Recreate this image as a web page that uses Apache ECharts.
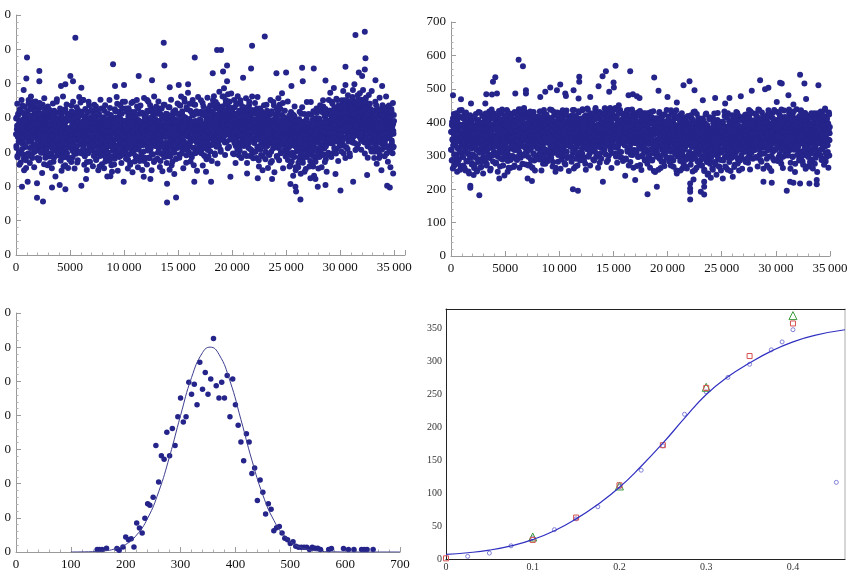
<!DOCTYPE html>
<html>
<head>
<meta charset="utf-8">
<script src="https://cdn.jsdelivr.net/npm/echarts@6/dist/echarts.min.js"></script>
<style>
  html, body { margin: 0; padding: 0; background: #fff; }
  #main { width: 858px; height: 581px; }
</style>
</head>
<body>
<div id="main"></div>
<script>
// top-left trace: y values, one row per 1000 samples on the x axis
var tlBand = [
  352,318,401,377,289,344,412,365,298,386,331,425,357,270,393,340,378,309,436,362,327,395,281,349,407,372,315,388,254,361,
  384,341,419,296,367,452,330,398,375,312,427,358,389,336,404,283,371,446,322,392,355,413,301,379,347,432,366,318,401,388,
  337,395,309,428,362,281,376,344,410,327,390,353,299,372,438,316,384,351,265,403,332,369,421,290,358,396,324,381,346,412,
  318,372,401,287,345,366,329,413,296,358,380,311,347,394,272,336,421,353,305,369,388,325,342,447,291,364,317,399,338,376,
  362,306,388,331,275,349,412,320,367,296,341,384,258,357,398,314,339,425,301,352,372,287,346,409,326,361,283,393,337,318,
  341,398,312,372,436,329,358,285,404,347,319,383,362,296,415,337,374,308,351,392,270,366,423,334,389,302,357,378,324,445,
  375,333,418,296,361,389,342,452,315,378,351,288,404,366,327,395,340,271,383,416,349,305,372,437,331,358,394,312,367,343,
  328,379,304,361,415,342,289,372,336,398,316,357,433,279,348,385,321,364,297,406,339,374,258,353,391,312,368,427,334,301,
  314,362,389,298,345,421,327,356,273,384,339,306,371,412,292,348,367,325,395,283,353,429,318,342,376,262,357,391,330,304,
  373,326,398,354,281,367,419,338,305,386,352,441,317,362,293,379,346,404,328,366,289,395,343,318,371,427,356,301,384,337,
  341,386,312,359,427,296,368,334,392,321,357,278,405,346,372,315,389,263,351,418,328,364,303,382,337,447,319,356,392,309,
  362,318,401,345,287,372,433,329,356,394,308,367,341,412,284,359,386,327,372,298,415,343,366,321,389,352,274,404,336,369,
  347,401,329,378,452,316,363,392,284,356,419,337,374,308,395,351,428,293,366,382,325,409,348,271,387,343,362,416,319,377,
  385,336,361,412,298,374,348,427,315,359,391,274,343,382,326,405,361,294,378,352,438,321,367,309,396,344,372,287,359,411,
  327,372,304,349,396,318,431,356,287,368,341,379,262,352,405,329,363,311,387,345,298,374,422,336,358,281,393,325,364,347,
  382,341,409,367,293,378,436,352,324,397,361,415,307,375,348,388,332,456,369,318,401,357,384,291,372,425,346,392,363,327,
  344,397,362,318,421,374,336,389,285,358,407,341,376,312,439,353,368,297,391,347,372,419,328,361,302,385,354,412,337,376,
  371,328,394,352,418,306,367,339,443,318,381,356,291,372,345,406,324,363,387,279,352,398,336,374,312,427,359,341,389,302,
  388,342,415,376,321,398,362,451,335,384,407,353,296,374,428,361,392,318,376,439,347,403,365,331,389,416,352,378,307,394,
  402,361,433,378,417,345,396,462,372,409,328,387,441,366,398,354,423,381,311,404,375,448,359,392,417,337,388,429,368,401,
  384,337,412,365,398,294,376,431,352,389,318,403,367,442,343,379,356,413,328,391,372,305,386,451,359,371,322,397,368,415,
  349,392,371,318,426,358,383,337,404,361,289,378,415,346,393,367,326,437,354,381,309,368,398,341,412,375,297,386,359,422,
  377,331,395,356,414,302,368,389,343,427,315,372,351,398,276,364,407,338,382,357,421,326,369,393,341,288,376,412,349,365,
  338,382,357,301,399,346,372,421,319,361,387,294,353,408,332,376,348,269,393,362,419,327,355,384,311,371,437,342,366,319,
  372,327,401,358,289,384,346,417,363,312,392,355,438,331,369,297,382,351,408,326,374,443,339,362,304,396,357,321,389,346,
  329,368,302,351,391,277,343,372,314,398,336,359,262,384,321,347,412,298,366,333,379,287,352,405,318,341,371,256,336,389,
  358,312,381,334,269,352,396,318,343,287,371,326,412,301,348,367,279,335,389,314,356,243,342,376,308,363,331,397,286,349,
  321,364,296,347,383,312,338,274,369,327,408,293,352,331,376,258,344,317,392,305,361,336,282,373,346,414,309,338,367,297,
  372,328,396,351,306,384,347,421,319,368,292,387,356,433,338,375,311,362,402,344,279,391,357,326,413,368,342,298,379,353,
  392,348,421,371,326,406,364,447,338,387,412,355,298,379,431,362,394,337,418,371,309,386,452,351,398,366,423,341,377,404,
  366,413,352,397,438,328,384,419,361,402,296,377,451,343,392,368,426,314,389,407,352,437,375,331,398,364,418,288,381,409,
  412,358,433,387,461,342,396,419,371,448,327,402,383,436,359,414,391,312,424,378,456,348,397,429,366,403,381,442,336,418,
  368,421,383,346,437,397,359,412,328,389,452,371,404,345,428,382,317,399,361,441,376,408,334,393,426,353,387,302,415,372,
  378,332,396,357,418,301,369,343,392,324,437,355,381,312,364,405,339,372,283,387,351,414,328,366,394,307,359,428,341,376,
  349,392,361,418,327,374,403,338,386,296,371,432,356,317,389,363,412,341,378,301,395,358,426,334,367,389,313,382,354,408
];

// the samples lying between the ones above
var tlBand2 = [
  398,312,367,441,285,352,409,331,376,263,423,346,389,301,358,452,326,371,294,415,339,383,247,361,432,318,392,276,354,407,
  352,415,289,386,441,331,372,407,268,394,349,462,313,378,425,296,361,437,342,389,256,401,367,323,448,379,305,414,358,283,
  421,337,384,276,359,443,318,395,351,298,412,367,239,381,336,429,302,365,457,327,392,284,348,418,371,309,387,262,433,344,
  296,381,337,423,268,362,319,401,347,253,389,325,442,307,366,284,411,343,378,229,357,398,316,454,334,371,291,415,348,306,
  381,318,427,289,364,336,246,401,354,307,462,329,372,285,343,418,262,387,311,356,439,297,368,325,254,394,341,412,278,359,
  317,392,348,271,419,336,381,303,447,359,324,398,252,371,338,413,295,362,431,317,388,276,354,403,339,461,298,376,329,412,
  413,347,298,386,337,452,311,369,404,263,378,341,426,302,359,391,248,417,336,372,297,447,355,318,386,272,401,339,368,423,
  306,384,341,259,407,326,369,438,293,352,317,396,277,361,423,338,301,378,247,344,412,325,367,289,453,334,381,310,265,392,
  367,291,402,339,253,378,314,437,349,284,396,327,361,229,413,343,298,387,318,452,274,359,331,408,287,366,243,392,321,376,
  311,389,264,367,425,338,297,401,352,461,319,374,246,392,341,418,286,359,331,437,303,378,268,412,349,322,447,294,366,383,
  391,326,447,302,364,281,418,345,311,383,252,369,428,337,294,402,351,269,387,318,443,329,376,241,358,404,297,342,417,273,
  328,403,287,369,341,452,309,382,256,427,346,316,391,274,358,436,321,387,297,364,248,413,339,376,302,458,347,284,395,332,
  409,336,378,264,421,353,305,447,326,389,282,368,437,311,356,401,247,382,343,419,294,371,328,462,347,276,397,318,384,433,
  342,417,281,373,329,448,306,391,354,257,412,337,368,296,427,381,244,362,319,405,351,286,438,327,373,299,412,345,268,387,
  384,296,356,431,318,372,249,407,335,292,453,361,316,389,273,347,418,302,371,236,396,328,359,414,281,343,387,312,442,327,
  336,411,372,284,437,353,398,317,462,374,296,419,341,386,253,403,359,327,447,378,308,392,269,431,352,384,318,473,362,301,
  392,318,441,357,273,384,332,416,294,371,452,337,389,262,409,346,313,438,372,298,417,354,246,383,329,461,348,307,394,366,
  318,387,342,451,297,372,326,409,261,356,433,312,379,346,288,418,367,243,394,331,372,459,306,361,287,411,343,378,322,436,
  411,346,392,274,437,361,419,326,384,463,337,398,292,371,446,352,316,409,382,267,428,359,391,318,476,344,401,368,301,423,
  356,428,392,462,337,411,373,486,348,419,292,396,451,364,408,331,437,381,469,352,402,316,446,379,427,341,394,471,363,412,
  418,352,296,397,361,452,327,384,412,268,371,439,341,392,306,463,358,379,291,421,347,386,318,441,372,283,406,351,432,337,
  323,386,431,349,296,412,368,327,457,381,342,268,403,359,426,312,374,447,338,289,397,361,423,306,376,462,341,392,282,418,
  396,327,368,443,301,359,412,283,384,337,461,316,372,406,258,391,349,427,308,363,292,418,341,382,247,401,356,317,437,372,
  348,407,279,372,331,438,318,362,393,254,381,347,416,292,369,326,452,337,301,388,274,412,359,328,446,315,376,241,397,361,
  314,389,352,427,286,371,408,332,457,349,276,393,361,318,426,298,382,344,472,326,367,253,403,337,384,306,421,358,287,398,
  371,302,389,327,448,296,362,318,406,258,381,337,292,417,351,273,396,324,367,231,408,346,286,433,319,362,247,391,338,302,
  306,372,327,256,394,341,283,418,312,359,237,386,325,297,431,348,269,377,316,352,411,288,334,368,251,393,322,446,301,361,
  368,296,411,327,258,381,339,302,446,316,357,267,392,325,289,419,348,231,376,311,398,272,356,332,427,287,364,309,383,252,
  327,398,286,369,437,341,308,386,256,417,362,323,451,294,377,339,408,271,361,426,317,384,243,372,334,411,292,368,452,338,
  421,358,473,337,392,286,418,371,441,326,398,357,487,312,382,426,341,403,296,456,368,331,412,387,274,436,352,409,318,391,
  349,428,386,302,451,367,411,337,478,392,319,436,361,404,283,417,376,451,342,398,309,466,383,427,346,392,296,442,371,418,
  427,362,451,394,328,481,376,413,347,498,391,426,306,372,443,359,412,387,466,323,401,438,357,389,472,342,418,381,307,453,
  352,416,378,481,331,402,446,364,296,421,387,459,343,398,366,432,284,411,378,467,327,392,441,358,311,423,386,478,342,401,
  389,327,421,352,283,398,336,447,312,374,403,266,381,342,426,301,367,416,337,459,292,373,351,408,247,386,324,437,359,312,
  331,407,352,288,426,371,339,462,315,392,356,417,272,381,343,436,308,368,401,256,387,352,419,327,374,297,443,362,316,391
];

// top-left points well outside the band: [x, y]
var tlOutliers = [
  [1018,576],[957,515],[710,481],[2160,537],[2160,507],[5030,522],[5277,507],[5493,634],[6048,488],[4166,493],
  [4567,498],[8980,556],[9165,493],[10000,496],[11357,522],[12590,510],[13671,619],[13733,553],[14227,489],[15060,496],
  [15924,498],[16541,576],[18207,530],[18609,598],[18980,598],[19164,535],[19534,553],[19534,507],[21016,517],[21849,610],
  [21756,544],[23021,637],[24101,530],[24996,532],[25490,493],[26478,546],[26540,507],[27558,544],[28640,509],[30490,549],
  [30490,496],[31416,642],[32280,651],[32341,574],[32280,541],[31725,532],[32033,522],[33267,510],[33884,493],
  [1944,167],[2500,156],[1944,209],[555,199],[1080,214],[3333,197],[4043,204],[4567,192],[6048,202],[6480,222],
  [8733,230],[9968,214],[11820,228],[12437,222],[13980,153],[13980,208],[14813,168],[16500,214],[18053,214],[19843,228],
  [21386,238],[22374,224],[23700,222],[25397,207],[25860,199],[25921,185],[26323,162],[27249,224],[27712,222],[27928,199],
  [28640,204],[29566,236],[30028,188],[31200,214],[32496,233],[34347,202],[34594,197],[34903,238]
];

// top-right trace
var trBand = [
  318,372,286,401,349,262,387,331,425,304,358,279,394,341,417,297,366,252,379,323,412,345,288,371,436,309,356,268,392,337,
  362,297,414,338,271,385,349,428,312,367,256,391,326,403,344,283,376,419,305,358,247,387,333,421,294,365,341,398,278,352,
  304,378,326,412,263,351,389,297,343,425,318,366,254,394,338,281,407,355,312,371,429,289,346,383,266,332,398,317,362,247,
  371,318,402,344,289,387,426,331,359,276,398,342,413,305,368,351,432,293,377,324,261,389,356,418,337,301,384,346,427,312,
  338,392,306,361,421,279,354,387,328,409,297,373,346,434,315,358,268,396,341,382,309,427,352,289,366,398,323,374,241,387,
  382,327,364,411,296,348,433,315,379,342,264,397,356,322,418,287,369,345,403,331,376,299,426,352,318,387,271,361,408,336,
  344,398,362,287,417,353,326,386,439,311,372,348,405,294,367,423,336,381,275,359,412,328,393,352,301,376,431,347,319,388,
  367,312,394,341,428,296,358,383,273,349,416,322,377,338,401,265,362,389,307,431,345,286,372,354,412,329,368,297,386,341,
  321,387,352,409,304,366,432,338,379,291,358,414,327,395,348,276,383,362,426,313,371,339,402,288,356,418,343,377,309,394,
  376,338,413,296,367,401,324,385,352,437,307,369,343,281,396,358,421,317,374,339,264,392,361,428,326,383,347,302,412,368,
  342,396,317,371,428,352,289,384,336,407,362,298,377,419,328,353,391,274,366,343,435,312,384,357,296,371,402,331,359,417,
  388,331,406,357,282,374,421,346,309,392,363,437,318,379,342,268,396,357,413,326,372,301,389,348,429,337,361,293,405,374,
  353,409,372,321,436,358,384,297,367,412,339,388,276,363,421,347,392,319,374,438,332,381,356,304,397,365,427,342,387,312,
  378,336,402,364,289,391,427,348,373,312,438,356,389,327,364,411,297,383,352,426,341,368,279,394,357,418,323,376,402,345,
  392,347,421,366,318,398,442,357,381,304,412,372,339,429,361,287,394,353,416,338,377,443,326,369,398,351,308,386,424,362,
  356,412,378,327,439,364,391,298,372,418,347,386,324,403,368,451,339,382,311,397,361,428,345,376,293,408,372,337,421,384,
  372,331,407,356,289,384,426,343,367,312,398,353,437,322,376,349,408,281,365,391,338,419,357,302,384,428,346,371,317,396,
  338,392,355,418,309,371,343,429,296,362,387,324,401,348,272,379,356,414,331,367,298,392,345,427,318,373,352,286,397,341,
  364,312,391,347,276,382,423,335,358,297,406,341,372,318,431,353,289,378,346,412,327,363,254,388,342,407,316,369,335,394,
  327,383,349,411,302,367,336,428,291,355,389,263,372,344,417,318,364,397,337,282,376,352,424,309,381,343,296,392,358,327,
  371,326,398,355,417,293,368,342,386,271,352,429,317,374,338,402,286,361,389,327,412,349,305,377,436,334,362,298,385,341,
  338,392,307,361,421,284,349,376,312,398,335,262,373,344,414,297,358,381,322,406,268,347,389,331,357,292,418,339,371,304,
  356,311,387,342,273,369,412,328,351,297,384,339,431,306,362,348,257,393,331,376,314,425,348,283,367,399,322,354,276,382,
  318,364,287,342,396,271,356,323,408,297,341,374,258,335,389,312,352,426,294,367,331,243,378,346,304,361,415,283,339,372,
  344,297,381,326,262,358,412,314,347,281,372,336,398,273,352,321,387,304,343,428,289,362,331,267,384,348,309,371,256,339,
  367,312,352,394,286,341,376,321,419,297,358,334,265,387,346,311,372,427,302,359,337,281,392,348,318,366,404,293,351,328,
  331,389,347,302,416,357,273,368,338,397,312,381,349,428,291,364,335,377,256,352,408,322,367,343,296,384,357,317,411,339,
  376,331,402,354,289,387,341,423,312,368,396,327,358,279,382,346,417,305,371,338,432,357,293,386,348,324,405,362,317,379,
  342,397,358,318,426,365,387,294,372,349,413,331,381,356,437,303,368,394,327,357,282,401,346,378,324,416,361,338,392,307,
  384,327,371,409,346,291,392,361,424,318,377,342,263,387,354,416,332,368,299,395,347,428,312,374,359,286,402,338,381,351,
  318,376,343,397,362,284,407,351,329,386,423,305,364,347,392,276,371,338,414,356,297,382,343,435,321,369,391,312,356,401,
  371,337,412,358,301,384,345,427,316,368,392,279,357,403,336,381,424,298,364,347,413,327,373,251,388,342,406,319,376,352,
  346,401,327,372,416,293,358,385,341,434,309,367,352,398,283,376,413,334,361,319,387,428,302,349,371,337,396,268,382,411,
  362,314,387,341,268,396,352,423,307,374,336,289,381,347,412,321,365,398,276,352,329,417,343,303,386,359,427,314,371,338,
  338,392,356,413,301,367,344,427,319,382,356,291,398,341,376,418,327,364,283,391,352,407,336,372,311,396,348,429,301,367
];

var trBand2 = [
  371,318,392,287,346,412,331,366,269,403,352,304,381,339,427,295,358,323,398,276,364,347,419,312,386,258,351,392,328,437,
  326,387,352,296,411,338,372,263,397,348,317,429,285,362,341,404,307,375,253,391,336,418,298,359,383,321,346,274,409,352,
  361,302,386,338,272,413,327,359,294,376,343,253,402,318,367,289,431,336,309,381,264,354,397,323,348,281,419,331,365,297,
  312,378,343,416,291,364,332,398,271,358,423,319,381,346,298,407,337,371,256,394,328,363,438,302,376,345,283,412,352,329,
  384,329,401,277,356,418,341,306,373,252,397,338,364,424,313,387,346,292,409,331,367,438,318,353,271,392,343,376,302,419,
  336,391,312,368,437,323,359,284,403,347,378,301,426,352,263,387,339,414,296,371,328,402,347,266,389,354,431,317,372,291,
  402,347,373,296,428,361,318,389,342,264,412,377,331,438,302,368,391,347,276,413,356,327,443,382,306,361,397,274,418,345,
  327,386,341,412,271,369,334,397,318,432,356,288,381,342,409,264,373,327,421,349,303,387,256,364,416,338,292,401,358,374,
  381,331,417,364,289,398,347,432,312,369,256,388,343,412,326,371,298,437,354,319,392,276,368,341,423,306,379,351,284,406,
  343,401,316,369,438,327,382,294,357,413,341,268,392,326,374,431,309,362,387,252,403,344,376,317,429,358,282,396,337,371,
  396,338,372,261,414,352,327,389,303,436,366,319,382,347,278,402,359,426,312,374,341,293,419,356,331,387,254,409,346,367,
  327,372,411,342,298,383,356,437,316,369,262,401,348,387,327,419,291,364,342,408,271,381,352,433,309,376,339,286,396,353,
  411,346,382,307,439,368,331,397,286,372,418,343,362,258,403,379,324,441,352,388,297,367,414,338,376,271,407,356,321,392,
  343,397,316,372,421,338,286,408,361,332,443,379,298,387,346,412,357,264,394,327,372,431,306,383,349,419,291,367,338,402,
  398,341,427,372,309,386,352,441,328,403,367,281,412,376,338,436,354,301,391,369,426,318,384,346,263,407,371,432,337,389,
  352,416,326,389,366,443,307,378,349,412,279,396,371,331,428,358,392,296,437,363,384,311,401,347,426,372,284,413,356,398,
  396,338,371,417,292,383,352,436,318,367,409,343,271,394,362,328,421,376,303,389,347,438,316,358,397,264,378,342,412,367,
  338,384,312,402,357,269,391,336,421,367,298,379,346,434,321,358,387,257,408,343,372,303,418,351,326,392,366,287,427,349,
  376,318,409,347,291,386,354,428,302,371,339,264,397,352,318,416,373,286,362,341,433,307,378,329,394,251,366,412,338,297,
  312,371,342,398,258,386,327,431,354,296,379,341,412,282,362,397,331,421,306,371,348,269,402,363,318,389,341,437,294,376,
  384,329,413,352,283,397,341,368,312,436,357,293,381,322,404,347,267,392,358,421,308,372,339,391,256,413,346,317,381,356,
  331,372,298,406,347,256,389,322,368,427,306,358,341,393,274,367,318,412,352,287,381,336,402,262,373,343,418,301,357,389,
  368,309,397,341,421,287,362,326,384,253,407,347,302,378,336,432,292,359,381,317,264,398,342,371,306,413,353,281,394,329,
  302,361,328,387,271,349,411,317,376,292,338,254,398,326,363,423,306,347,281,392,334,368,247,381,316,409,343,276,358,321,
  348,297,383,321,364,258,397,338,304,426,352,279,371,316,389,243,362,331,407,296,356,384,268,342,401,317,372,287,336,393,
  312,376,341,402,287,358,321,432,346,268,387,333,361,296,414,349,258,382,322,366,403,291,347,376,254,398,337,309,421,356,
  372,319,396,343,266,408,331,376,298,357,431,322,384,347,277,392,361,318,418,339,286,371,353,407,302,382,261,346,413,332,
  338,391,312,364,422,346,281,397,358,326,412,373,294,381,342,437,318,367,259,402,351,386,309,428,337,364,291,396,348,317,
  387,342,406,368,296,421,353,329,392,268,376,438,341,397,319,364,412,287,383,356,334,429,306,372,398,261,352,417,338,379,
  331,376,412,342,387,271,401,363,317,436,352,298,389,344,421,326,371,254,397,368,339,412,291,376,352,437,318,383,341,406,
  398,356,323,384,431,339,372,296,408,361,343,419,287,376,352,438,317,388,341,263,402,369,327,392,349,416,301,364,386,332,
  341,412,367,302,393,357,438,321,374,346,261,402,383,331,419,358,296,386,347,432,318,371,392,276,408,352,327,439,361,303,
  387,332,401,358,286,419,344,371,312,436,362,297,389,341,408,273,376,353,427,316,392,338,261,407,371,329,418,348,384,296,
  322,376,349,413,281,394,336,362,427,307,371,343,262,398,354,318,386,427,331,367,294,412,346,376,251,389,337,408,362,314,
  372,341,397,318,432,356,287,409,363,328,391,346,418,273,374,352,437,309,381,343,296,412,367,331,394,264,377,423,346,386
];

var trOutliers = [
  [185,481],[923,469],[1846,456],[3876,521],[4091,535],[3784,483],[4245,486],[3260,484],[3168,456],[6244,587],
  [6644,568],[5937,486],[6920,496],[6920,486],[8243,476],[8705,491],[9167,504],[9782,496],[10090,513],[10551,486],
  [10613,479],[11320,496],[11843,521],[11843,536],[11781,471],[12858,476],[13627,508],[13996,538],[14304,553],[14611,491],
  [15011,519],[15042,504],[15196,569],[16549,553],[16395,481],[16795,484],[17164,478],[17410,473],[18764,534],[19164,494],
  [19995,476],[20856,459],[21472,511],[22025,523],[22487,496],[23256,466],[24394,473],[25317,456],[25716,473],[26762,478],
  [27776,494],[28545,526],[29006,499],[29314,503],[30391,518],[30545,516],[30084,461],[31160,481],[31622,453],[32237,542],
  [32637,516],[32791,470],[33929,511],[34544,441],
  [1784,210],[1784,204],[2615,182],[2092,242],[4460,232],[5229,252],[7074,232],[7474,224],[11258,200],[11720,195],
  [14027,222],[16087,240],[17010,227],[18148,185],[19010,207],[20856,247],[22087,217],[22087,202],[22087,192],[22087,169],
  [22395,229],[23072,192],[23379,184],[23379,207],[23379,222],[23995,234],[25100,232],[26024,237],[28853,222],[29622,219],
  [31006,195],[31314,222],[31622,219],[32237,217],[33098,217],[33775,215],[33775,227]
];

// bottom-left: histogram counts and the fitted curve
var blBins = [148,152,157,165,184,188,195,200,205,210,215,220,225,230,235,240,244,250,255,260,265,270,275,280,285,290,295,300,305,310,315,320,325,330,335,340,345,350,355,360,365,370,375,380,385,390,395,400,405,410,415,420,425,430,435,440,445,450,455,460,465,470,475,480,485,490,495,500,505,510,515,520,525,530,535,540,545,550,555,570,575,597,606,616,630,635,640,651];
var blCounts = [0.7,0.7,0.7,1.1,1,0.5,1.5,4.4,3.6,3.9,1.5,8.5,7,5.6,9.9,14.1,13.7,16,31.2,20.5,28.2,27.2,35.1,28.2,36.2,31.2,39.6,45.1,38.1,39.6,49.7,46.2,49.1,43.1,55.6,47.7,52.6,46.2,50.7,62.5,48.7,45.1,49.7,45.1,51.7,39.6,50.7,43.1,37.1,32.2,26.7,34.6,32.2,23,24.6,15.1,21.1,17.5,11.1,14.1,12.5,6.2,7.1,7.5,5.6,4,3.6,2.5,3,1.7,1.4,1.4,1.4,1.4,0.7,1.4,1.1,1.1,0.7,0.7,1,1,0.7,0.7,0.7,0.7,0.7,0.7];
var blCurveX = [100,140,160,180,200,220,240,260,280,300,320,340,354,370,390,410,430,450,470,490,510,530,550,580,620,700];
var blCurveY = [0,0.1,0.3,0.9,2.2,5,9.9,17.6,28,40,51.1,58.4,60,57.9,50.1,38.8,26.9,16.7,9.3,4.6,2,0.8,0.3,0.05,0,0];

// bottom-right: measured points and fitted sigmoid
var brCircleX = [0.025,0.05,0.075,0.1,0.125,0.15,0.175,0.2,0.225,0.25,0.275,0.3,0.325,0.35,0.375,0.3875,0.4,0.45];
var brCircleY = [4,9,20,32,44.6,61,79.5,110,135,172,220,254,276,296,318,330,348.5,116.5];
var brSquareX = [0,0.1,0.15,0.2,0.25,0.3,0.35,0.4];
var brSquareY = [1,29,63,112,173,260,308.5,358];
var brTriX = [0.1,0.2,0.3,0.4];
var brTriY = [33.4,111,261,370];
var brCurveX = [0,0.025,0.05,0.075,0.1,0.125,0.15,0.175,0.2,0.225,0.25,0.275,0.3,0.325,0.35,0.375,0.4,0.425,0.46];
var brCurveY = [7,9.5,13.5,20,29.5,43,61,83,109,141,176,214,250,277,298,316,330,340,348.5];

var dotColor = "#24248a";
var serif = "Liberation Serif";

function spaced(v) {
    // 10000 -> "10 000" with a thin space
    if (v >= 10000) return Math.floor(v / 1000) + "\u2009" + String(v).slice(-3);
    return String(v);
}

function grayAxis(extra) {
    var a = {
        type: "value",
        axisLine: { show: true, lineStyle: { color: "#9a9a9a", width: 1 } },
        axisTick: { show: true, inside: true, length: 5, lineStyle: { color: "#9a9a9a" } },
        minorTick: { show: true, splitNumber: 5, length: 2.5, lineStyle: { color: "#b0b0b0" } },
        splitLine: { show: false },
        axisLabel: { color: "#111", fontFamily: serif, fontSize: 13, margin: 6 }
    };
    for (var k in extra) a[k] = extra[k];
    return a;
}

function toPairs(xs, ys) {
    return xs.map(function(x, i) { return [x, ys[i]]; });
}

// samples are evenly spaced along the 35000-long record
function bandPairs(ys, offset) {
    var step = 35000 / ys.length;
    return ys.map(function(y, i) { return [Math.round((i + offset) * step), y]; });
}

var chart = echarts.init(document.getElementById("main"), null, { renderer: "canvas" });

var dots = { color: dotColor, opacity: 1 };

var option = {
    animation: false,
    backgroundColor: "#fff",
    grid: [
        { left: 16, top: 15, width: 389, height: 240 },
        { left: 451, top: 22, width: 379, height: 234 },
        { left: 16, top: 313, width: 384, height: 239 },
        { left: 446, top: 309, width: 399, height: 250 }
    ],
    xAxis: [
        grayAxis({ gridIndex: 0, min: 0, max: 36000, interval: 5000,
            axisLabel: { color: "#111", fontFamily: serif, fontSize: 13, margin: 6, showMaxLabel: false, formatter: spaced } }),
        grayAxis({ gridIndex: 1, min: 0, max: 35000, interval: 5000,
            axisLabel: { color: "#111", fontFamily: serif, fontSize: 13, margin: 6, formatter: spaced } }),
        grayAxis({ gridIndex: 2, min: 0, max: 700, interval: 100 }),
        {
            type: "value", gridIndex: 3, min: 0, max: 0.46, interval: 0.1,
            axisLine: { lineStyle: { color: "#222", width: 1 } },
            axisTick: { show: false },
            splitLine: { show: false },
            axisLabel: { color: "#333", fontFamily: serif, fontSize: 10, margin: 3, showMaxLabel: false }
        },
        {
            type: "value", gridIndex: 3, position: "top", min: 0, max: 0.46,
            axisLine: { show: true, onZero: false, lineStyle: { color: "#222", width: 1 } },
            axisTick: { show: false }, axisLabel: { show: false }, splitLine: { show: false }
        }
    ],
    yAxis: [
        // the reference crop cuts the leading digits of these labels, only the last "0" is left
        grayAxis({ gridIndex: 0, min: 0, max: 700, interval: 100,
            axisLabel: { color: "#111", fontFamily: serif, fontSize: 13, margin: 5,
                formatter: function(v) { return String(v).slice(-1); } } }),
        grayAxis({ gridIndex: 1, min: 0, max: 700, interval: 100,
            axisLabel: { color: "#111", fontFamily: serif, fontSize: 13, margin: 5 } }),
        grayAxis({ gridIndex: 2, min: 0, max: 70, interval: 10,
            axisLabel: { color: "#111", fontFamily: serif, fontSize: 13, margin: 5,
                formatter: function(v) { return String(v).slice(-1); } } }),
        {
            type: "value", gridIndex: 3, min: 0, max: 380, interval: 50,
            axisLine: { show: true, lineStyle: { color: "#222", width: 1 } },
            axisTick: { show: false },
            splitLine: { show: false },
            axisLabel: { color: "#333", fontFamily: serif, fontSize: 10, margin: 4, showMaxLabel: false }
        },
        {
            type: "value", gridIndex: 3, position: "right", min: 0, max: 380,
            axisLine: { show: true, onZero: false, lineStyle: { color: "#c8c8c8", width: 1.5 } },
            axisTick: { show: false }, axisLabel: { show: false }, splitLine: { show: false }
        }
    ],
    series: [
        {
            type: "scatter", xAxisIndex: 0, yAxisIndex: 0, symbolSize: 6, itemStyle: dots,
            data: bandPairs(tlBand, 0).concat(bandPairs(tlBand2, 0.5), tlOutliers)
        },
        {
            type: "scatter", xAxisIndex: 1, yAxisIndex: 1, symbolSize: 6, itemStyle: dots,
            data: bandPairs(trBand, 0).concat(bandPairs(trBand2, 0.5), trOutliers)
        },
        {
            type: "line", xAxisIndex: 2, yAxisIndex: 2, smooth: true, showSymbol: false,
            lineStyle: { color: "#3e3e90", width: 1 }, data: toPairs(blCurveX, blCurveY)
        },
        {
            type: "scatter", xAxisIndex: 2, yAxisIndex: 2, symbolSize: 5.5, itemStyle: dots,
            data: toPairs(blBins, blCounts)
        },
        {
            type: "line", xAxisIndex: 3, yAxisIndex: 3, smooth: true, showSymbol: false,
            lineStyle: { color: "#3030c0", width: 1.2 }, data: toPairs(brCurveX, brCurveY)
        },
        {
            type: "scatter", xAxisIndex: 3, yAxisIndex: 3, symbol: "circle", symbolSize: 4,
            itemStyle: { color: "rgba(0,0,0,0)", borderColor: "#8080d8", borderWidth: 1, opacity: 1 },
            data: toPairs(brCircleX, brCircleY)
        },
        {
            type: "scatter", xAxisIndex: 3, yAxisIndex: 3, symbol: "triangle", symbolSize: 8,
            itemStyle: { color: "rgba(0,0,0,0)", borderColor: "#3c9a3c", borderWidth: 1, opacity: 1 },
            data: toPairs(brTriX, brTriY)
        },
        {
            type: "scatter", xAxisIndex: 3, yAxisIndex: 3, symbol: "rect", symbolSize: 5,
            itemStyle: { color: "rgba(0,0,0,0)", borderColor: "#d85050", borderWidth: 1, opacity: 1 },
            data: toPairs(brSquareX, brSquareY)
        }
    ]
};

chart.setOption(option);
</script>
</body>
</html>
